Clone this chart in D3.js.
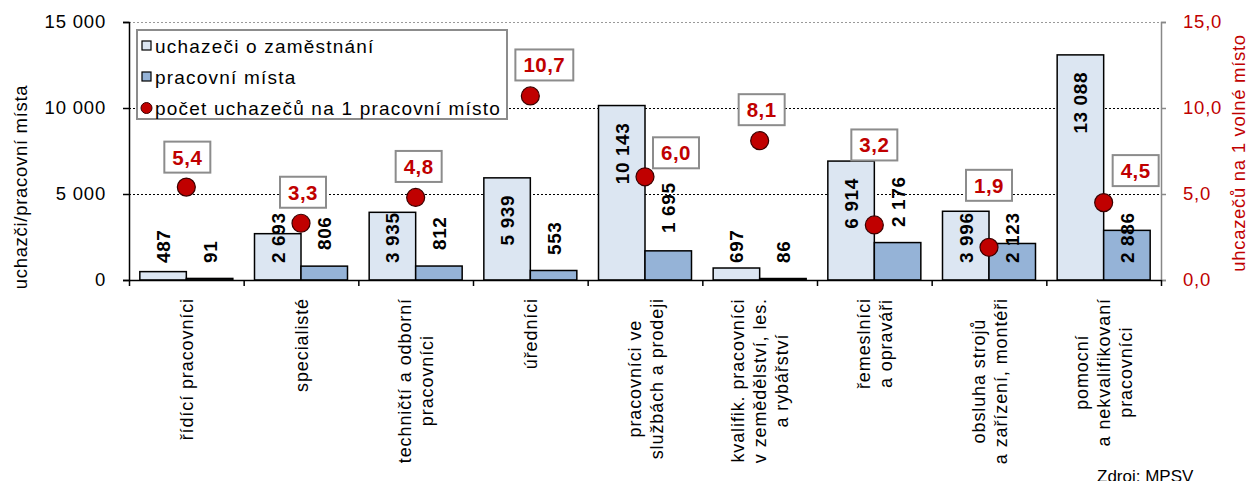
<!DOCTYPE html>
<meta charset='utf-8'>
<style>
  body { margin: 0; background: #fff; }
  svg text { font-family: 'Liberation Sans', Arial, sans-serif; }
</style>
<svg width='1248' height='481'></svg>
<script src="https://d3js.org/d3.v7.min.js"></script>
<script>
  // data
  var categories = [
    ['řídící pracovníci'],
    ['specialisté'],
    ['techničtí  a odborní', 'pracovníci'],
    ['úředníci'],
    ['pracovníci ve', 'službách a prodeji'],
    ['kvalifik. pracovníci', 'v zemědělství, les.', 'a rybářství'],
    ['řemeslníci', 'a opraváři'],
    ['obsluha strojů', 'a zařízení, montéři'],
    ['pomocní', 'a nekvalifikovaní', 'pracovníci']
  ];
  var uchazeci = [487, 2693, 3935, 5939, 10143, 697, 6914, 3996, 13088];
  var mista = [91, 806, 812, 553, 1695, 86, 2176, 2123, 2886];
  var pomer = [5.4, 3.3, 4.8, 10.7, 6.0, 8.1, 3.2, 1.9, 4.5];
  var leftTicks = [0, 5000, 10000, 15000];
  var rightTicks = [0, 5, 10, 15];
  var legendLabels = ['uchazeči o zaměstnání', 'pracovní místa', 'počet uchazečů na 1 pracovní místo'];

  // manual label shifts (px), as placed in the original
  var ratioShift = [[1, -30], [2, -31], [3, -31], [14, -31], [31, -24], [2, -31], [0, -80], [0, -62], [32, -32]];
  var mistaLift = [0, 13, 13, 8, 30, 0, 36, 0, 0];

  var svg = d3.select('svg'),
    pL = 129, pR = 1161, pT = 22, pB = 280,
    red = '#c00000';

  var cz = d3.formatLocale({decimal: ',', thousands: '\u00a0', grouping: [3], currency: ['', ' Kč']});
  var fmtInt = cz.format(',d'),
    fmt1 = cz.format('.1f');

  var x = d3.scaleBand().domain(d3.range(categories.length)).range([pL, pR]);
  var xs = d3.scaleBand().domain([0, 1]).range([0, x.bandwidth()]).paddingOuter(0.233);
  var y = d3.scaleLinear().domain([0, 15000]).range([pB, pT]);
  var y2 = d3.scaleLinear().domain([0, 15]).range([pB, pT]);

  // gridlines
  svg.append('g')
    .attr('transform', 'translate(' + pL + ',0)')
    .call(d3.axisLeft(y).tickValues([5000, 10000, 15000]).tickSize(-(pR - pL)).tickFormat(''))
    .call(function(g) {
      g.select('.domain').remove();
      g.selectAll('line')
        .attr('stroke', function(d) { return d === 15000 ? '#999' : '#000'; })
        .attr('stroke-dasharray', '2,2');
    });

  // bars
  var series = [
    {values: uchazeci, fill: '#dce6f2'},
    {values: mista, fill: '#95b3d7'}
  ];
  series.forEach(function(s, si) {
    svg.append('g').selectAll('rect')
      .data(s.values)
      .enter().append('rect')
      .attr('x', function(d, i) { return x(i) + xs(si); })
      .attr('y', function(d) { return y(d); })
      .attr('width', xs.bandwidth())
      .attr('height', function(d) { return pB - y(d); })
      .attr('fill', s.fill)
      .attr('stroke', '#000')
      .attr('stroke-width', 1.5);
  });

  // axes
  svg.append('g')
    .attr('transform', 'translate(' + pL + ',0)')
    .call(d3.axisLeft(y).tickValues(leftTicks).tickFormat(fmtInt).tickSize(6).tickPadding(17))
    .call(function(g) {
      g.select('.domain').attr('stroke', '#000').attr('stroke-width', 1.5);
      g.selectAll('line').attr('stroke', '#000').attr('stroke-width', 1.5);
      g.selectAll('text').attr('font-size', 18.5).attr('fill', '#000').attr('letter-spacing', '0.8px')
        .attr('font-family', "'Liberation Sans', Arial, sans-serif");
    });

  svg.append('g')
    .attr('transform', 'translate(' + pR + ',0)')
    .call(d3.axisRight(y2).tickValues(rightTicks).tickFormat(fmt1).tickSize(5).tickPadding(17))
    .call(function(g) {
      g.select('.domain').attr('stroke', '#888').attr('stroke-width', 1.5);
      g.selectAll('line').attr('stroke', '#888').attr('stroke-width', 1.5);
      g.selectAll('text').attr('font-size', 18.5).attr('fill', red).attr('letter-spacing', '0.8px')
        .attr('font-family', "'Liberation Sans', Arial, sans-serif");
    });

  var xb = d3.scaleLinear().domain([0, categories.length]).range([pL, pR]);
  svg.append('g')
    .attr('transform', 'translate(0,' + pB + ')')
    .call(d3.axisBottom(xb).tickValues(d3.range(categories.length + 1)).tickFormat('').tickSize(6).tickSizeOuter(0))
    .call(function(g) {
      g.select('.domain').attr('stroke', '#000').attr('stroke-width', 1.5);
      g.selectAll('line').attr('stroke', '#000').attr('stroke-width', 1.5);
    });

  // category labels (rotated, centred lines, longest line ending near the axis)
  var catTop = 298, lineH = 22;
  categories.forEach(function(lines, i) {
    var cx = x(i) + x.bandwidth() / 2;
    var t = svg.append('text')
      .attr('font-size', 18)
      .attr('letter-spacing', '0.9px')
      .attr('text-anchor', 'middle')
      .attr('fill', '#000');
    var spans = lines.map(function(l, k) {
      return t.append('tspan')
        .attr('x', 0)
        .attr('y', (k - (lines.length - 1) / 2) * lineH + 6.5)
        .text(l);
    });
    var maxLen = d3.max(spans, function(s) { return s.node().getComputedTextLength(); });
    spans.forEach(function(s) { s.attr('x', -(catTop + maxLen / 2)); });
    t.attr('transform', 'translate(' + cx + ',0) rotate(-90)');
  });

  // bar value labels
  series.forEach(function(s, si) {
    s.values.forEach(function(v, i) {
      var cx = x(i) + xs(si) + xs.bandwidth() / 2;
      var t = svg.append('text')
        .attr('font-size', 19)
        .attr('font-weight', 'bold')
        .attr('letter-spacing', '0.6px')
        .attr('fill', '#000')
        .attr('y', 7)
        .text(fmtInt(v));
      var len = t.node().getComputedTextLength();
      var b = Math.min(y(v) + 17 + len, 263) - (si === 1 ? mistaLift[i] : 0);
      t.attr('transform', 'translate(' + cx + ',' + b + ') rotate(-90)');
    });
  });

  // ratio dots + boxed labels
  var dots = svg.append('g');
  pomer.forEach(function(v, i) {
    var cx = x(i) + x.bandwidth() / 2, cy = y2(v);
    var lx = cx + ratioShift[i][0], ly = cy + ratioShift[i][1];
    var box = dots.append('rect');
    var t = dots.append('text')
      .attr('x', lx)
      .attr('y', ly + 7.5)
      .attr('text-anchor', 'middle')
      .attr('font-size', 20.5)
      .attr('font-weight', 'bold')
      .attr('letter-spacing', '0.5px')
      .attr('fill', red)
      .text(fmt1(v));
    var w = t.node().getComputedTextLength() + 16;
    box.attr('x', lx - w / 2).attr('y', ly - 15.5)
      .attr('width', w).attr('height', 31)
      .attr('fill', '#fff').attr('stroke', '#8c8c8c').attr('stroke-width', 2);
    dots.append('circle')
      .attr('cx', cx).attr('cy', cy).attr('r', 9)
      .attr('fill', red).attr('stroke', '#3a0000').attr('stroke-width', 1.2);
  });

  // legend
  var lg = svg.append('g');
  lg.append('rect')
    .attr('x', 137).attr('y', 30).attr('width', 370).attr('height', 89)
    .attr('fill', '#fff').attr('stroke', '#8c8c8c').attr('stroke-width', 2);
  var rowY = [46, 77, 108];
  legendLabels.forEach(function(l, k) {
    if (k < 2) {
      lg.append('rect')
        .attr('x', 142).attr('y', rowY[k] - 5).attr('width', 9).attr('height', 9)
        .attr('fill', series[k].fill).attr('stroke', '#000').attr('stroke-width', 1.2);
    } else {
      lg.append('circle')
        .attr('cx', 146.5).attr('cy', rowY[k]).attr('r', 5.5)
        .attr('fill', red).attr('stroke', '#3a0000').attr('stroke-width', 1);
    }
    lg.append('text')
      .attr('x', 155).attr('y', rowY[k] + 7)
      .attr('font-size', 19)
      .attr('letter-spacing', '1.2px')
      .attr('fill', '#000')
      .text(l);
  });

  // axis titles
  svg.append('text')
    .attr('transform', 'translate(27,187) rotate(-90)')
    .attr('text-anchor', 'middle')
    .attr('font-size', 18.5)
    .attr('letter-spacing', '0.7px')
    .attr('fill', '#000')
    .text('uchazči/pracovní místa');

  svg.append('text')
    .attr('transform', 'translate(1245,153) rotate(-90)')
    .attr('text-anchor', 'middle')
    .attr('font-size', 18.5)
    .attr('letter-spacing', '0.7px')
    .attr('fill', red)
    .text('uhcazečů na 1 volné místo');

  svg.append('text')
    .attr('x', 1097).attr('y', 482)
    .attr('font-size', 17)
    .attr('fill', '#000')
    .text('Zdroj: MPSV');
</script>
